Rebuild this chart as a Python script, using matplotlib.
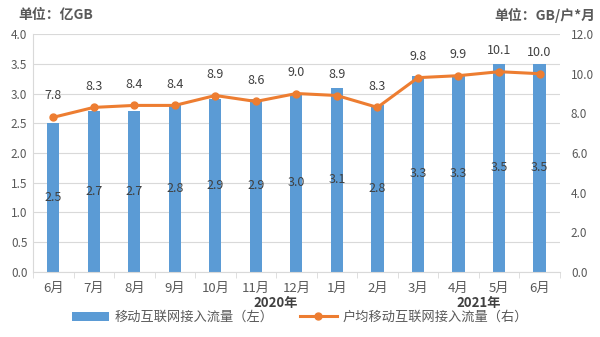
import matplotlib
matplotlib.use("Agg")
import matplotlib.pyplot as plt
import numpy as np

plt.rcParams['font.family'] = ['Noto Sans CJK SC', 'DejaVu Sans']

# Data
months = ['6月', '7月', '8月', '9月', '10月', '11月', '12月',
          '1月', '2月', '3月', '4月', '5月', '6月']
traffic = [2.5, 2.7, 2.7, 2.8, 2.9, 2.9, 3.0, 3.1, 2.8, 3.3, 3.3, 3.5, 3.5]      # 亿GB
per_user = [7.8, 8.3, 8.4, 8.4, 8.9, 8.6, 9.0, 8.9, 8.3, 9.8, 9.9, 10.1, 10.0]  # GB/户*月
years = ['2020年', '2021年']
year_pos = [5.5, 10.5]
bar_name = '移动互联网接入流量（左）'
line_name = '户均移动互联网接入流量（右）'

blue = '#5B9BD5'
orange = '#ED7D31'
grey = '#595959'

fig = plt.figure(figsize=(6, 3.37), dpi=100)
ax = fig.add_axes([0.055, 0.193, 0.878, 0.706])
ax2 = ax.twinx()

x = np.arange(len(months))
bars = ax.bar(x, traffic, width=0.3, color=blue, zorder=2, label=bar_name)
for xi, v in zip(x, traffic):
    ax.text(xi, v / 2, f'{v:.1f}', ha='center', va='center', fontsize=9, color='#404040', zorder=3)

ax.set_ylim(0, 4)
ax.set_yticks(np.arange(0, 4.01, 0.5))
ax.set_yticklabels([f'{t:.1f}' for t in np.arange(0, 4.01, 0.5)])
ax.set_xlim(-0.5, len(months) - 0.5)
ax.set_xticks(x)
ax.set_xticklabels(months)
ax.set_xticks(np.arange(-0.5, len(months), 1), minor=True)
ax.tick_params(axis='x', which='major', length=0, pad=7, labelsize=9.5, labelcolor=grey)
ax.tick_params(axis='x', which='minor', length=4, color='#D9D9D9')
ax.tick_params(axis='y', length=0, labelsize=8.5, labelcolor=grey, pad=4)
ax.grid(axis='y', color='#D9D9D9', linewidth=0.8, zorder=0)
ax.set_axisbelow(True)
for s in ['top', 'right']:
    ax.spines[s].set_visible(False)
ax.spines['left'].set_color('#D9D9D9')
ax.spines['bottom'].set_color('#D9D9D9')

line, = ax2.plot(x, per_user, color=orange, linewidth=2.2, marker='o', markersize=5, zorder=4,
                 label=line_name)
for xi, v in zip(x, per_user):
    ax2.text(xi, v + 0.75, f'{v:.1f}', ha='center', va='bottom', fontsize=9, color='#404040')
ax2.set_ylim(0, 12)
ax2.set_yticks(np.arange(0, 12.1, 2))
ax2.set_yticklabels([f'{t:.1f}' for t in np.arange(0, 12.1, 2)])
ax2.tick_params(axis='y', length=0, labelsize=8.5, labelcolor=grey, pad=8)
for s in ['top', 'right', 'left', 'bottom']:
    ax2.spines[s].set_visible(False)

# year labels under the months
for yp, yl in zip(year_pos, years):
    ax.text(yp, -0.53, yl, ha='center', va='center', fontsize=9.5, fontweight='bold',
            color='#404040', transform=ax.transData, clip_on=False)

# unit labels
fig.text(0.03, 0.955, '单位：亿GB', ha='left', va='center', fontsize=10, fontweight='bold', color=grey)
fig.text(0.993, 0.955, '单位：GB/户*月', ha='right', va='center', fontsize=10, fontweight='bold', color=grey)

fig.legend(handles=[bars, line], labels=[bar_name, line_name], loc='center',
           bbox_to_anchor=(0.5, 0.058), ncol=2, frameon=False, fontsize=9.5,
           labelcolor=grey, handlelength=2.8, columnspacing=2.0, handletextpad=0.4)

fig.savefig('out.png', dpi=100)
